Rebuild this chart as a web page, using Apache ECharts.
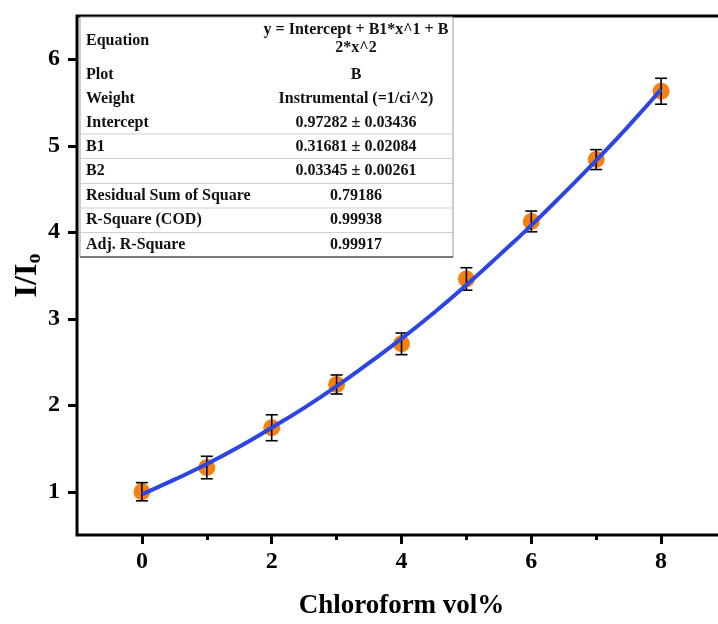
<!DOCTYPE html>
<html><head><meta charset="utf-8">
<script src="https://cdn.jsdelivr.net/npm/echarts@6/dist/echarts.min.js"></script>
<style>html,body{margin:0;padding:0;background:#fff;overflow:hidden}#c{width:718px;height:624px}</style>
</head><body><div id="c"></div>
<script>
const xValues = [0, 1, 2, 3, 4, 5, 6, 7, 8];
const yValues = [1.00, 1.28, 1.74, 2.24, 2.71, 3.46, 4.125, 4.84, 5.63];
const yErrors = [0.105, 0.13, 0.15, 0.11, 0.125, 0.13, 0.12, 0.115, 0.15];
const fitX = [0, 0.5, 1, 1.5, 2, 2.5, 3, 3.5, 4, 4.5, 5, 5.5, 6, 6.5, 7, 7.5, 8];
const fitY = [0.97, 1.14, 1.32, 1.52, 1.74, 1.97, 2.22, 2.49, 2.77, 3.07, 3.39, 3.73, 4.08, 4.45, 4.83, 5.23, 5.65];
const xTickValues = [0, 2, 4, 6, 8];
const xMinorTickValues = [1, 3, 5, 7];
const yTickValues = [1, 2, 3, 4, 5, 6];
const tableLabels = ['Equation', 'Plot', 'Weight', 'Intercept', 'B1', 'B2', 'Residual Sum of Square', 'R-Square (COD)', 'Adj. R-Square'];
const tableValues = ['y = Intercept + B1*x^1 + B\n2*x^2', 'B', 'Instrumental (=1/ci^2)', '0.97282 \u00b1 0.03436', '0.31681 \u00b1 0.02084', '0.03345 \u00b1 0.00261', '0.79186', '0.99938', '0.99917'];
const xAxisTitle = 'Chloroform vol%';
const yAxisTitle = '{a|I/I}{b|o}';

const FONT = '"Liberation Serif", "Times New Roman", serif';
const chart = echarts.init(document.getElementById('c'), null, {renderer: 'canvas'});

// table layout
const rowCenters = [41, 75, 99, 123, 147, 171, 196, 220, 245];
const sepLines = [134, 158.5, 183.5, 208, 232.5];
const tLeft = 80, tRight = 453, tTop = 17, tBottom = 257;
const graphics = [];
graphics.push({type: 'rect', shape: {x: tLeft, y: tTop, width: tRight - tLeft, height: tBottom - tTop},
  style: {fill: '#fff', stroke: '#9a9a9a', lineWidth: 1}, z: 1});
sepLines.forEach(y => graphics.push({type: 'line', shape: {x1: tLeft, y1: y, x2: tRight, y2: y},
  style: {stroke: '#cfcfcf', lineWidth: 1}, z: 2}));
graphics.push({type: 'line', shape: {x1: tLeft, y1: tBottom, x2: tRight, y2: tBottom},
  style: {stroke: '#7a7a7a', lineWidth: 2}, z: 2});
tableLabels.forEach((t, i) => graphics.push({type: 'text', z: 3,
  style: {text: t, x: 86, y: rowCenters[i], textAlign: 'left', textVerticalAlign: 'middle',
    font: 'bold 16px ' + FONT, fill: '#111'}}));
tableValues.forEach((t, i) => graphics.push({type: 'text', z: 3,
  style: {text: t, x: 356, y: i === 0 ? 39 : rowCenters[i], textAlign: 'center', textVerticalAlign: 'middle',
    font: 'bold 16px ' + FONT, lineHeight: 18, fill: '#111'}}));

const labelStyle = {fontSize: 24, fontWeight: 'bold', fontFamily: FONT, color: '#000'};

chart.setOption({
  animation: false,
  backgroundColor: '#fff',
  grid: {left: 77, width: 649, top: 16, height: 519, outerBoundsMode: 'none', containLabel: false,
    show: true, borderColor: '#000', borderWidth: 3, backgroundColor: 'transparent'},
  xAxis: [{
    type: 'value', min: -1, max: 9, position: 'bottom',
    axisLine: {show: false, onZero: false},
    axisTick: {show: true, customValues: xTickValues, length: 9, lineStyle: {color: '#000', width: 3}},
    axisLabel: Object.assign({customValues: xTickValues, margin: 15}, labelStyle),
    splitLine: {show: false},
    name: xAxisTitle, nameLocation: 'middle', nameGap: 58, nameMoveOverlap: false,
    nameTextStyle: {fontSize: 27, fontWeight: 'bold', fontFamily: FONT, color: '#000'}
  }, {
    type: 'value', min: -1, max: 9, position: 'bottom',
    axisLine: {show: false, onZero: false},
    axisTick: {show: true, customValues: xMinorTickValues, length: 5, lineStyle: {color: '#000', width: 3}},
    axisLabel: {show: false},
    splitLine: {show: false}
  }],
  yAxis: {
    type: 'value', min: 0.5, max: 6.5,
    axisLine: {show: false, onZero: false},
    axisTick: {show: true, customValues: yTickValues, length: 9, lineStyle: {color: '#000', width: 3}},
    axisLabel: Object.assign({customValues: yTickValues, margin: 17}, labelStyle),
    splitLine: {show: false},
    name: yAxisTitle, nameLocation: 'middle', nameGap: 32, nameMoveOverlap: false,
    nameTextStyle: {rich: {
      a: {fontSize: 32, fontWeight: 'bold', fontFamily: FONT, color: '#000', lineHeight: 34},
      b: {fontSize: 20, fontWeight: 'bold', fontFamily: FONT, color: '#000', lineHeight: 20, verticalAlign: 'bottom'}
    }}
  },
  graphic: graphics,
  series: [{
    type: 'scatter', xAxisIndex: 0,
    data: xValues.map((x, i) => [x, yValues[i]]),
    symbol: 'circle', symbolSize: 17,
    itemStyle: {color: '#f5820f', opacity: 1}, z: 3
  }, {
    type: 'custom', xAxisIndex: 0,
    data: xValues.map((x, i) => [x, yValues[i], yErrors[i]]),
    renderItem: function (params, api) {
      const x = api.value(0), y = api.value(1), e = api.value(2);
      const top = api.coord([x, y + e]), bot = api.coord([x, y - e]);
      const hw = 6, st = {stroke: '#000', lineWidth: 1.6};
      return {type: 'group', children: [
        {type: 'line', shape: {x1: top[0], y1: top[1], x2: bot[0], y2: bot[1]}, style: st},
        {type: 'line', shape: {x1: top[0] - hw, y1: top[1], x2: top[0] + hw, y2: top[1]}, style: st},
        {type: 'line', shape: {x1: bot[0] - hw, y1: bot[1], x2: bot[0] + hw, y2: bot[1]}, style: st}
      ]};
    },
    z: 4
  }, {
    type: 'line', xAxisIndex: 0,
    data: fitX.map((x, i) => [x, fitY[i]]),
    smooth: true, showSymbol: false,
    lineStyle: {color: '#2b46e4', width: 4},
    itemStyle: {color: '#2b46e4'}, z: 5
  }]
});
</script>
</body></html>
